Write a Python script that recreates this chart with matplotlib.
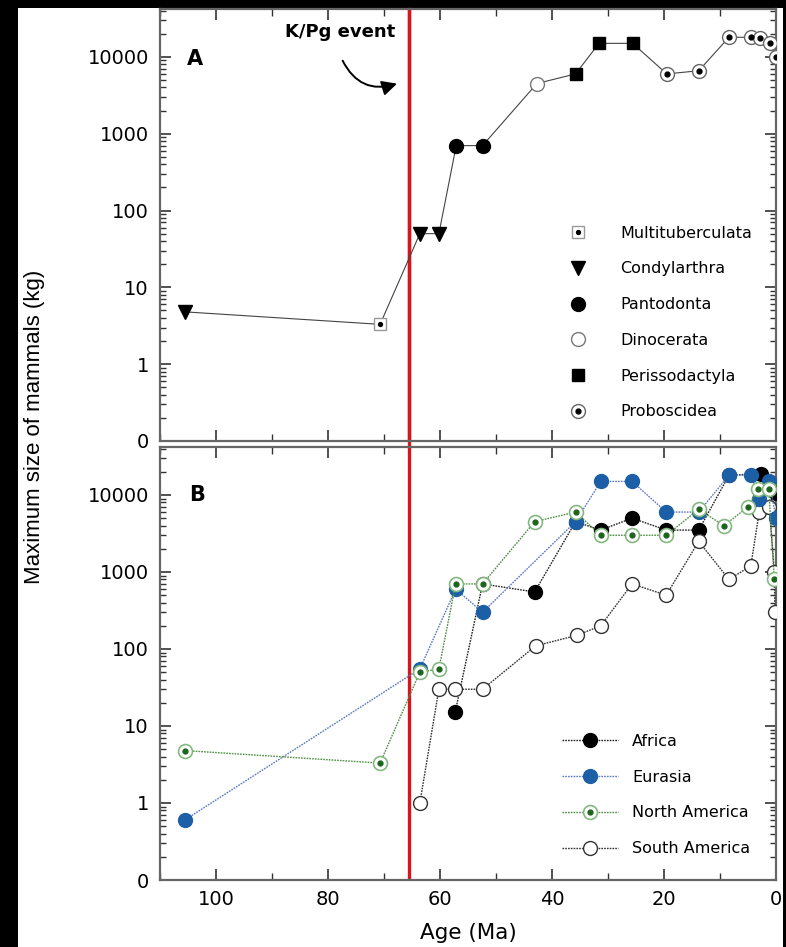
import matplotlib
matplotlib.use('Agg')
import matplotlib.pyplot as plt
from matplotlib.patches import Rectangle
from matplotlib.ticker import FixedLocator, FixedFormatter, LogLocator, NullFormatter, MultipleLocator

# ---- panel A : largest mammal, by order (age Ma, mass kg)
multi_age = [70.7]
multi_kg = [3.3]
condy_age = [105.6, 63.6, 60.2]
condy_kg = [4.8, 50, 50]
panto_age = [57.1, 52.4]
panto_kg = [700, 700]
dino_age = [42.7]
dino_kg = [4500]
periss_age = [35.8, 31.6, 25.6]
periss_kg = [6000, 15000, 15000]
probo_age = [19.5, 13.8, 8.4, 4.4, 2.9, 1.1, 0.0]
probo_kg = [6000, 6600, 18000, 18000, 17500, 15000, 10000]

# ---- panel B : largest mammal, by continent
africa_age = [57.3, 52.4, 43.1, 35.8, 31.3, 25.7, 19.6, 13.8, 8.4, 2.7, 0.0]
africa_kg = [15, 700, 550, 4500, 3500, 5000, 3500, 3500, 18000, 19000, 10500]
eurasia_age = [105.6, 63.6, 57.2, 52.4, 35.8, 31.3, 25.7, 19.6, 13.8, 8.4, 4.4, 3.0, 1.2, 0.0]
eurasia_kg = [0.6, 55, 600, 300, 4500, 15000, 15000, 6000, 6000, 18000, 18000, 9000, 15000, 5000]
namer_age = [105.6, 70.7, 63.6, 60.2, 57.2, 52.4, 43.1, 35.8, 31.3, 25.7, 19.6, 13.8, 9.3, 5.0, 3.2, 1.3, 0.3]
namer_kg = [4.8, 3.3, 50, 55, 700, 700, 4500, 6000, 3000, 3000, 3000, 6500, 4000, 7000, 12000, 12000, 800]
samer_age = [63.6, 60.2, 57.3, 52.4, 42.9, 35.6, 31.3, 25.7, 19.6, 13.8, 8.4, 4.5, 3.0, 1.2, 0.3, 0.2]
samer_kg = [1, 30, 30, 30, 110, 150, 200, 700, 500, 2500, 800, 1200, 6000, 7000, 1000, 300]

ytick_vals = [0.1, 1, 10, 100, 1000, 10000]
ytick_labels = ['0', '1', '10', '100', '1000', '10000']
kpg_age = 65.5

BLUE = '#1c5fa6'
GREEN_EDGE = '#86b882'
GREEN_DOT = '#1c651c'
GREEN_LINE = '#4f8f45'
RED = '#d8141c'
SPINE = '#666666'

plt.rcParams['font.family'] = 'DejaVu Sans'

fig = plt.figure(figsize=(7.86, 9.47), dpi=100)
fig.patch.set_facecolor('black')
fig.patches.append(Rectangle((18 / 786, 0), (783 - 18) / 786, (947 - 8) / 947,
                             transform=fig.transFigure, facecolor='white',
                             edgecolor='none', zorder=-10))

L, W = 160 / 786, 616 / 786
axA = fig.add_axes([L, 1 - 441 / 947, W, 432 / 947])
axB = fig.add_axes([L, 1 - 880 / 947, W, 433 / 947])


def style_axis(ax):
    ax.set_yscale('log')
    ax.set_xlim(110, 0)
    ax.set_ylim(0.1, 42000)
    ax.yaxis.set_major_locator(FixedLocator(ytick_vals))
    ax.yaxis.set_major_formatter(FixedFormatter(ytick_labels))
    ax.yaxis.set_minor_locator(LogLocator(base=10, subs=range(2, 10)))
    ax.yaxis.set_minor_formatter(NullFormatter())
    ax.xaxis.set_major_locator(MultipleLocator(20))
    ax.xaxis.set_minor_locator(MultipleLocator(10))
    ax.tick_params(which='both', direction='in', top=True, right=True,
                   colors='#333333', labelcolor='black', labelsize=14)
    ax.tick_params(which='major', length=8, width=1.2)
    ax.tick_params(which='minor', length=4, width=1)
    ax.tick_params(axis='x', which='minor', length=5)
    ax.tick_params(axis='y', pad=8)
    ax.tick_params(axis='x', pad=7)
    for s in ax.spines.values():
        s.set_color(SPINE)
        s.set_linewidth(1.6)
    ax.axvline(kpg_age, color=RED, lw=2.4, zorder=1.5)


style_axis(axA)
style_axis(axB)
axA.tick_params(axis='x', labelbottom=False)
# red line crosses the gap between panels
axA.axvline(kpg_age, ymin=-0.03, ymax=1, color=RED, lw=2.4, clip_on=False, zorder=1.5)

# ---------------- panel A
all_age = multi_age + condy_age + panto_age + dino_age + periss_age + probo_age
all_kg = multi_kg + condy_kg + panto_kg + dino_kg + periss_kg + probo_kg
pairs = sorted(zip(all_age, all_kg), reverse=True)
axA.plot([p[0] for p in pairs], [p[1] for p in pairs], color='#444444', lw=0.8, zorder=2)

h_multi = axA.plot(multi_age, multi_kg, 's', ms=8, mfc='white', mec='#999999', mew=1, zorder=3)[0]
h_multi_d = axA.plot(multi_age, multi_kg, 'o', ms=2.8, mfc='black', mec='black', zorder=4)[0]
h_condy = axA.plot(condy_age, condy_kg, 'v', ms=10, color='black', zorder=3)[0]
h_panto = axA.plot(panto_age, panto_kg, 'o', ms=10, color='black', zorder=3)[0]
h_dino = axA.plot(dino_age, dino_kg, 'o', ms=10, mfc='white', mec='#777777', mew=1, zorder=3)[0]
h_periss = axA.plot(periss_age, periss_kg, 's', ms=9, color='black', zorder=3)[0]
h_probo = axA.plot(probo_age, probo_kg, 'o', ms=10, mfc='white', mec='#666666', mew=1, zorder=3)[0]
h_probo_d = axA.plot(probo_age, probo_kg, 'o', ms=3.5, color='black', zorder=4)[0]

axA.legend([(h_multi, h_multi_d), h_condy, h_panto, h_dino, h_periss, (h_probo, h_probo_d)],
           ['Multituberculata', 'Condylarthra', 'Pantodonta', 'Dinocerata',
            'Perissodactyla', 'Proboscidea'],
           loc='lower left', bbox_to_anchor=(0.633, 0.05), frameon=False,
           fontsize=11.5, handlelength=3.5, handletextpad=0.9, labelspacing=1.3,
           borderpad=0, borderaxespad=0)

axA.text(0.057, 0.885, 'A', transform=axA.transAxes, fontsize=15, fontweight='bold',
         ha='center', va='center')
axA.text(0.292, 0.946, 'K/Pg event', transform=axA.transAxes, fontsize=13,
         fontweight='bold', ha='center', va='center')
axA.annotate('', xy=(67.2, 4600), xytext=(77.6, 9600),
             arrowprops=dict(arrowstyle='-|>,head_length=0.9,head_width=0.45',
                             connectionstyle='arc3,rad=0.45', color='black', lw=1.4))

# ---------------- panel B
dash = (0, (1.2, 0.8))
axB.plot(africa_age, africa_kg, ls=dash, lw=1, color='#222222', marker='o', ms=10,
         mfc='black', mec='black', zorder=3, label='Africa')
axB.plot(samer_age, samer_kg, ls=dash, lw=1, color='#333333', marker='o', ms=10,
         mfc='white', mec='#333333', mew=1, zorder=4, label='South America')
axB.plot(eurasia_age, eurasia_kg, ls=dash, lw=1, color='#5a78c0', marker='o', ms=10,
         mfc=BLUE, mec=BLUE, zorder=5, label='Eurasia')
axB.plot(namer_age, namer_kg, ls=dash, lw=1, color=GREEN_LINE, marker='o', ms=10,
         mfc='white', mec=GREEN_EDGE, mew=1.2, zorder=6, label='North America')
axB.plot(namer_age, namer_kg, 'o', ms=3.5, color=GREEN_DOT, zorder=7)

hl = axB.get_lines()
h_af = [l for l in hl if l.get_label() == 'Africa'][0]
h_eu = [l for l in hl if l.get_label() == 'Eurasia'][0]
h_na = [l for l in hl if l.get_label() == 'North America'][0]
h_sa = [l for l in hl if l.get_label() == 'South America'][0]
h_na_d = hl[-1]
axB.legend([h_af, h_eu, (h_na, h_na_d), h_sa],
           ['Africa', 'Eurasia', 'North America', 'South America'],
           loc='lower left', bbox_to_anchor=(0.652, 0.055), frameon=False,
           fontsize=11.5, handlelength=3.5, handletextpad=0.9, labelspacing=1.3,
           borderpad=0, borderaxespad=0)

axB.text(0.06, 0.889, 'B', transform=axB.transAxes, fontsize=15, fontweight='bold',
         ha='center', va='center')

axB.set_xlabel('Age (Ma)', fontsize=15.5, labelpad=10)
fig.text(35 / 786, 1 - 427 / 947, 'Maximum size of mammals (kg)', rotation=90,
         ha='center', va='center', fontsize=16, family='Liberation Sans')

fig.savefig('out.png', dpi=100, facecolor=fig.get_facecolor())
